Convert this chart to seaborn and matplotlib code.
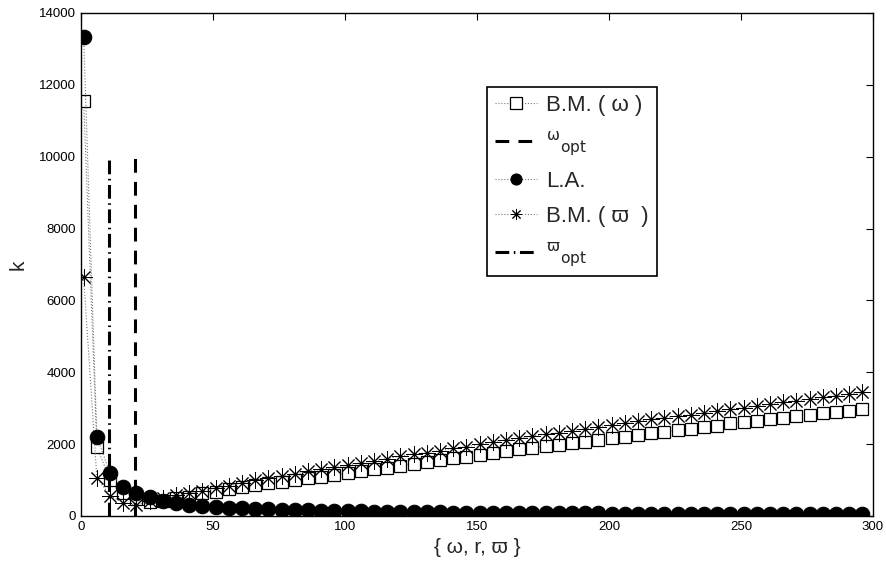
import numpy as np
import pandas as pd
import matplotlib
matplotlib.use("Agg")
import matplotlib.pyplot as plt
import seaborn as sns

# ---------------- data ----------------
x_vals = [1, 6, 11, 16, 21, 26, 31, 36, 41, 46, 51, 56, 61, 66, 71, 76, 81, 86, 91, 96,
          101, 106, 111, 116, 121, 126, 131, 136, 141, 146, 151, 156, 161, 166, 171, 176,
          181, 186, 191, 196, 201, 206, 211, 216, 221, 226, 231, 236, 241, 246, 251, 256,
          261, 266, 271, 276, 281, 286, 291, 296]

bm_omega = [11550, 1930, 1005, 640, 465, 400, 430, 490, 540, 630, 680, 740, 815, 865, 910,
            960, 1005, 1050, 1095, 1140, 1190, 1250, 1300, 1345, 1405, 1450, 1490, 1555,
            1605, 1650, 1700, 1745, 1815, 1855, 1890, 1945, 1980, 2025, 2070, 2115, 2160,
            2210, 2255, 2300, 2345, 2395, 2425, 2470, 2515, 2575, 2620, 2650, 2690, 2735,
            2780, 2815, 2860, 2900, 2935, 2980]

la_vals = [13330, 2210, 1190, 820, 635, 520, 430, 360, 310, 280, 245, 225, 210, 195, 185,
           175, 165, 155, 148, 140, 134, 128, 122, 117, 112, 108, 104, 100, 97, 94, 91, 88,
           85, 83, 80, 78, 76, 74, 72, 70, 68, 66, 65, 63, 62, 60, 59, 58, 57, 55, 54, 53,
           52, 51, 50, 49, 48, 47, 46, 45]

bm_varpi = [6650, 1070, 565, 370, 306, 420, 500, 580, 635, 695, 770, 835, 925, 1000, 1050,
            1110, 1165, 1245, 1300, 1355, 1420, 1485, 1540, 1595, 1670, 1725, 1765, 1820,
            1885, 1930, 1995, 2065, 2115, 2160, 2225, 2280, 2320, 2375, 2420, 2485, 2535,
            2580, 2640, 2690, 2740, 2780, 2810, 2875, 2930, 2970, 3015, 3060, 3115, 3165,
            3210, 3250, 3300, 3350, 3395, 3445]

omega_opt = 20.5
varpi_opt = 10.5
opt_line_k = [0, 10000]

labels = ["B.M. ( ω )", r"$^{\mathrm{ω}}$$_{\mathrm{opt}}$", "L.A.", "B.M. ( ϖ  )",
          r"$^{\mathrm{ϖ}}$$_{\mathrm{opt}}$"]

# ---------------- style ----------------
sns.set_theme(style="white")
plt.rcParams["font.family"] = ["Liberation Sans", "DejaVu Sans"]
plt.rcParams["mathtext.fontset"] = "custom"
plt.rcParams["mathtext.rm"] = "DejaVu Sans"
plt.rcParams["mathtext.it"] = "DejaVu Sans:italic"

fig = plt.figure(figsize=(8.86, 5.68), dpi=100)
ax = fig.add_axes([81 / 886, 52 / 568, 792 / 886, 503 / 568])

dot_kw = dict(linestyle=":", linewidth=0.8, color="#777777")

sns.lineplot(x=x_vals, y=bm_omega, ax=ax, sort=False, estimator=None, label=labels[0],
             marker="s", markersize=8.5, markerfacecolor="white", markeredgecolor="black",
             markeredgewidth=0.9, zorder=2, **dot_kw)
sns.lineplot(x=[omega_opt, omega_opt], y=opt_line_k, ax=ax, sort=False, estimator=None,
             label=labels[1], color="black", linewidth=2.2, linestyle=(0, (4.5, 3)), zorder=5)
sns.lineplot(x=x_vals, y=la_vals, ax=ax, sort=False, estimator=None, label=labels[2],
             marker="o", markersize=10.5, markerfacecolor="black", markeredgecolor="black",
             zorder=4, **dot_kw)
sns.lineplot(x=x_vals, y=bm_varpi, ax=ax, sort=False, estimator=None, label=labels[3],
             marker=(8, 2, 0), markersize=12, markerfacecolor="black",
             markeredgecolor="black", markeredgewidth=0.7, zorder=3, **dot_kw)
sns.lineplot(x=[varpi_opt, varpi_opt], y=opt_line_k, ax=ax, sort=False, estimator=None,
             label=labels[4], color="black", linewidth=2.2,
             linestyle=(0, (4.5, 1.5, 0.5, 1.5)), zorder=5)

ax.set_xlim(0, 300)
ax.set_ylim(0, 14000)
ax.set_xticks([0, 50, 100, 150, 200, 250, 300])
ax.set_yticks(list(range(0, 14001, 2000)))
ax.tick_params(direction="in", length=5, width=0.8, top=True, right=True,
               labelsize=9.5, colors="black")
for s in ax.spines.values():
    s.set_visible(True)
    s.set_color("black")
    s.set_linewidth(1.0)

ax.set_xlabel("{ ω, r, ϖ }", fontsize=15, labelpad=4)
ax.set_ylabel("k", fontsize=15, labelpad=8)

leg = ax.legend(loc="upper left", bbox_to_anchor=(0.513, 0.853), fontsize=16,
                frameon=True, fancybox=False, framealpha=1, edgecolor="black",
                handlelength=1.9, handletextpad=0.4, borderpad=0.35, labelspacing=0.6,
                borderaxespad=0)
leg.get_frame().set_linewidth(1.2)
for h in leg.legend_handles:
    try:
        h.set_markersize(8)
    except Exception:
        pass

fig.savefig("out.png", dpi=100)
